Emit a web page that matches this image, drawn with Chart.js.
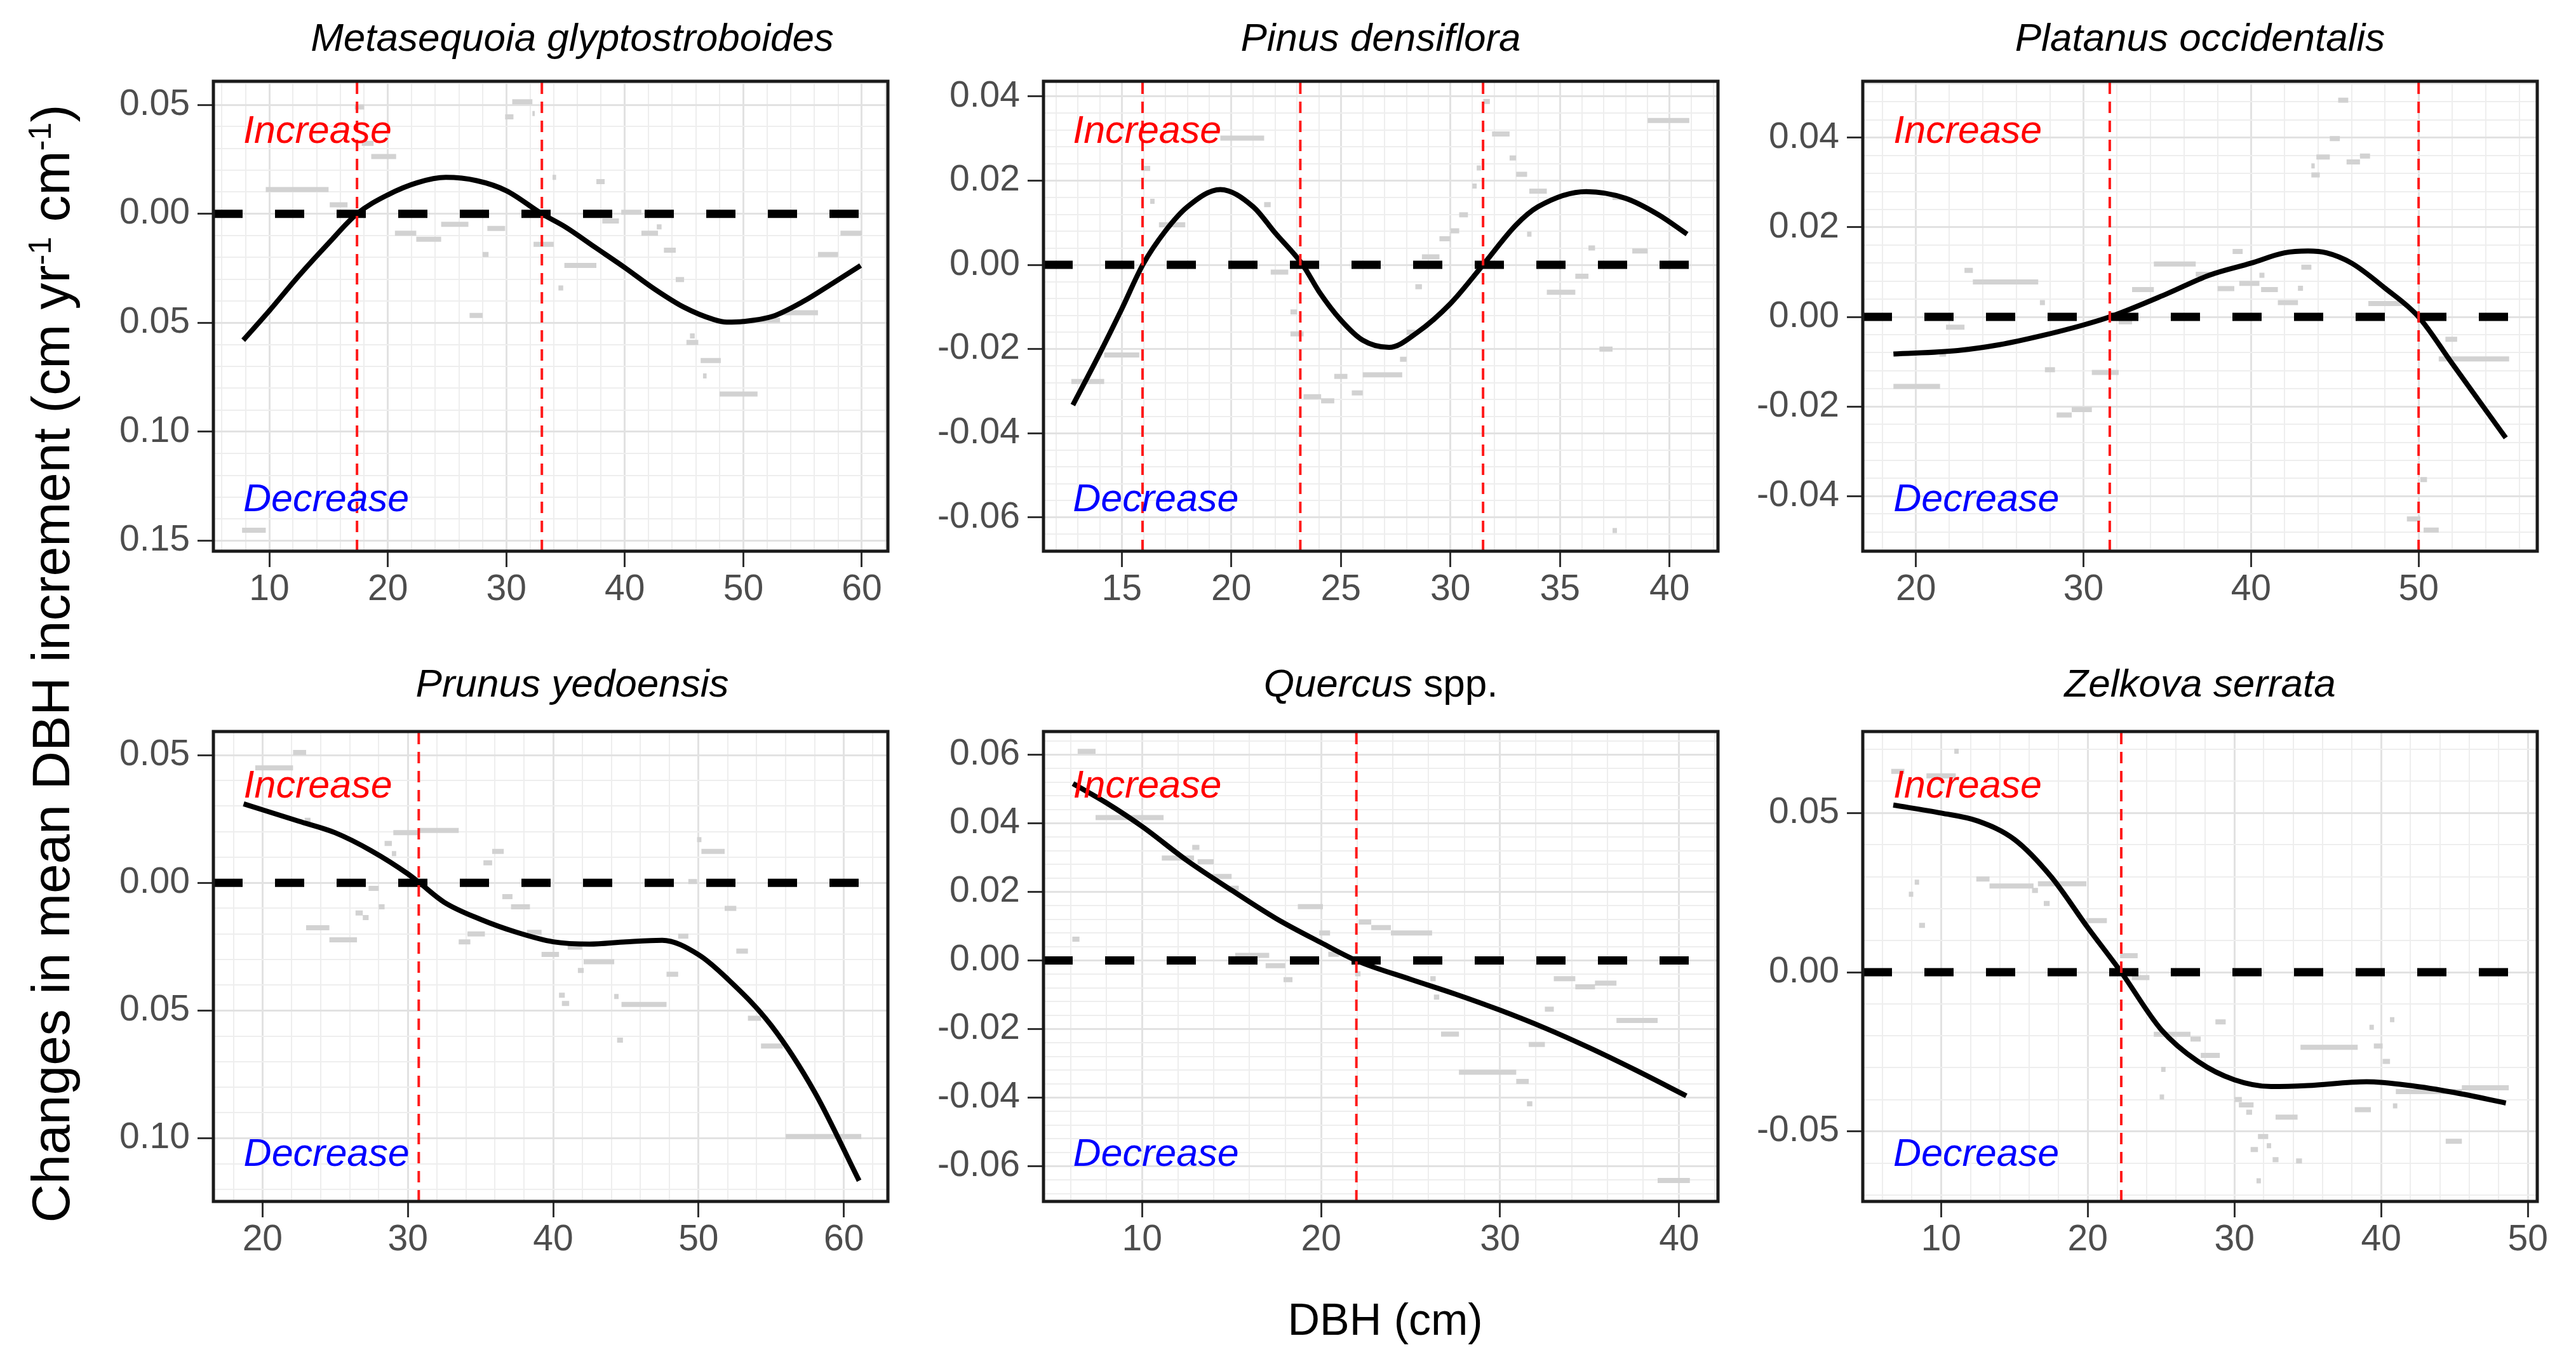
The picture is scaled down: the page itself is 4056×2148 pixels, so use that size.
<!DOCTYPE html>
<html>
<head>
<meta charset="utf-8">
<title>Changes in mean DBH increment by DBH</title>
<script src="https://cdn.jsdelivr.net/npm/chart.js"></script>
<style>
  body { margin: 0; background: #fff; }
  #page { position: relative; width: 4056px; height: 2148px; overflow: hidden;
          font-family: "Liberation Sans", Arial, sans-serif; color: #000; }
  #page canvas { position: absolute; }
  #ytitle { position: absolute; left: 80px; top: 1045px; white-space: nowrap;
            font-size: 84px; line-height: 84px;
            transform: translate(-50%, -50%) rotate(-90deg); }
  #ytitle sup { font-size: 0.6em; line-height: 0; }
  #xtitle { position: absolute; left: 2181px; top: 2043px; white-space: nowrap;
            font-size: 70px; line-height: 70px; transform: translateX(-50%); }
</style>
</head>
<body>
<div id="page">
  <div id="ytitle">Changes in mean DBH increment (cm yr<sup>-1</sup> cm<sup>-1</sup>)</div>
  <div id="xtitle">DBH (cm)</div>
</div>
<script>
// ---- data: smooth curve [DBH, change], gray bins [from, to, value], crossing points ----
const metaCurve = [[7.8,-0.058],[10,-0.0445],[12.5,-0.0284],[15,-0.0135],[17.4,0],[20,0.0087],[22.5,0.0143],[24.9,0.0167],[27.5,0.0152],[30,0.0106],[33,0],[35,-0.0061],[37.5,-0.0154],[40,-0.0247],[42.5,-0.0345],[45,-0.0429],[47.5,-0.0485],[48.6,-0.0497],[50,-0.0494],[52.5,-0.047],[55,-0.0404],[57.5,-0.032],[59.9,-0.0237]];
const metaBins = [[17.2,18.0,0.049],[17.8,18.8,0.0323],[18.6,20.7,0.0263],[9.7,15.0,0.0111],[15.1,16.6,0.0041],[29.9,30.6,0.0445],[30.5,32.2,0.0514],[32.2,32.4,0.046],[20.6,22.4,-0.0089],[22.4,24.5,-0.0117],[24.5,26.8,-0.0048],[28.4,29.9,-0.0067],[28.0,28.5,-0.0187],[26.9,28.0,-0.0466],[32.3,34.0,-0.014],[33.9,34.2,0.0167],[34.9,37.6,-0.0237],[34.4,34.8,-0.034],[37.6,38.3,0.0148],[38.1,39.5,-0.0033],[39.7,41.4,0.0007],[41.4,42.8,-0.0089],[42.7,43.1,-0.006],[43.3,44.3,-0.0167],[44.3,45.0,-0.0302],[45.2,46.2,-0.059],[45.5,45.9,-0.056],[46.4,48.1,-0.0673],[46.6,46.9,-0.0744],[48.0,51.2,-0.0827],[51.2,53.1,-0.0488],[53.1,56.3,-0.0454],[56.3,58.0,-0.0187],[58.2,60.0,-0.0089],[7.7,9.7,-0.1452]];
const metaCuts = [17.4, 33.0];
const metaXTicks = [10, 20, 30, 40, 50, 60];
const metaYTicks = [-0.15, -0.10, -0.05, 0, 0.05];
const metaYLabels = ['0.15', '0.10', '0.05', '0.00', '0.05'];

const pinusCurve = [[12.77,-0.0333],[14,-0.021],[15,-0.0105],[15.96,0],[17,0.0081],[18,0.0138],[19.5,0.0179],[21,0.0138],[22,0.0076],[23.26,0],[24,-0.0063],[25,-0.0131],[26,-0.0179],[27.2,-0.0196],[28.5,-0.016],[30,-0.0092],[31.49,0],[33,0.0095],[34,0.0138],[36.2,0.0174],[38,0.0158],[39.5,0.0119],[40.8,0.0073]];
const pinusBins = [[12.7,14.2,-0.0277],[14.2,15.8,-0.0214],[15.9,16.3,0.0229],[16.3,16.5,0.0151],[16.7,17.9,0.0095],[19.5,21.5,0.0301],[21.5,21.8,0.0143],[21.8,22.6,-0.0017],[22.7,23.0,-0.0112],[22.7,23.3,-0.0164],[23.3,24.1,-0.0313],[24.1,24.7,-0.0323],[24.7,25.3,-0.0265],[25.5,26.0,-0.0304],[26.0,27.8,-0.0261],[27.7,28.0,-0.0224],[28.0,28.4,-0.016],[28.4,28.7,-0.0052],[28.7,29.5,0.0019],[29.5,30.0,0.0062],[30.0,30.4,0.0081],[30.4,30.8,0.0119],[31.0,31.2,0.0187],[31.2,31.4,0.023],[31.5,31.8,0.0388],[31.9,32.7,0.0311],[32.7,33.0,0.0254],[33.0,33.5,0.0215],[33.6,34.4,0.0175],[33.5,33.7,0.0073],[34.4,35.7,-0.0065],[35.7,36.3,-0.0027],[36.8,37.4,-0.02],[37.4,37.6,-0.0631],[37.4,37.9,0.016],[38.3,39.0,0.0033],[39.0,40.9,0.0343],[36.3,36.6,0.004]];
const pinusCuts = [15.95, 23.15, 31.49];
const pinusXTicks = [15, 20, 25, 30, 35, 40];
const pinusYTicks = [-0.06, -0.04, -0.02, 0, 0.02, 0.04];
const pinusYLabels = ['-0.06', '-0.04', '-0.02', '0.00', '0.02', '0.04'];

const platCurve = [[18.66,-0.0083],[22.5,-0.0075],[25,-0.0062],[27.5,-0.0042],[30,-0.0018],[31.57,0],[35,0.0052],[37.5,0.0093],[40,0.012],[42,0.0143],[43.4,0.0147],[44.5,0.0143],[46,0.012],[48,0.0064],[50,0],[52,-0.0104],[55.2,-0.027]];
const platBins = [[18.66,21.44,-0.0155],[21.4,21.8,-0.0083],[21.8,22.9,-0.0023],[22.9,23.4,0.0104],[23.4,27.3,0.0078],[27.4,27.7,0.0032],[27.7,28.3,-0.0118],[28.4,29.3,-0.0219],[29.3,30.5,-0.0207],[30.5,32.1,-0.0124],[32.1,32.9,-0.0011],[32.9,34.2,0.0061],[34.2,36.7,0.0118],[36.7,37.8,0.0095],[38.0,39.0,0.0063],[38.9,39.5,0.0146],[39.3,40.5,0.0075],[40.5,40.8,0.0093],[40.6,41.6,0.0061],[41.6,42.8,0.0032],[42.8,43.1,0.0064],[43.0,43.6,0.0111],[43.6,44.1,0.0317],[43.6,43.8,0.0337],[43.9,44.7,0.0357],[44.7,45.3,0.0398],[45.2,45.8,0.0484],[45.7,46.5,0.0346],[46.5,47.1,0.0359],[47.0,49.1,0.003],[49.3,50.1,-0.0451],[50.1,50.5,-0.0363],[50.3,51.2,-0.0476],[51.6,52.3,-0.005],[51.2,55.4,-0.0094]];
const platCuts = [31.57, 50.0];
const platXTicks = [20, 30, 40, 50];
const platYTicks = [-0.04, -0.02, 0, 0.02, 0.04];
const platYLabels = ['-0.04', '-0.02', '0.00', '0.02', '0.04'];

const prunCurve = [[18.7,0.0309],[22.5,0.0241],[25,0.0196],[27.5,0.0125],[30,0.0035],[30.8,0],[32.5,-0.0076],[35,-0.0143],[37.5,-0.0194],[40,-0.0231],[42.5,-0.024],[45,-0.0231],[47.5,-0.0225],[50,-0.0281],[52,-0.0376],[55,-0.0558],[58,-0.082],[61.05,-0.1166]];
const prunBins = [[19.5,22.1,0.045],[22.1,23.0,0.051],[22.9,23.3,0.0245],[23.0,24.6,-0.0176],[24.6,26.5,-0.0223],[26.4,26.9,-0.0118],[26.9,27.3,-0.0136],[27.3,28.0,-0.0022],[28.0,28.4,-0.0094],[28.4,28.9,0.0154],[28.9,29.2,0.0114],[29.0,30.8,0.0196],[30.8,33.5,0.0205],[33.5,34.3,-0.0231],[34.1,35.3,-0.02],[35.2,35.8,0.0078],[35.8,36.6,0.0123],[36.5,37.2,-0.0054],[37.1,38.4,-0.0094],[38.2,39.2,-0.0194],[39.2,40.4,-0.028],[40.4,40.8,-0.044],[40.6,41.1,-0.0472],[41.0,42.0,-0.0252],[41.7,42.1,-0.0343],[42.1,44.2,-0.0309],[44.2,44.5,-0.0445],[44.4,44.8,-0.0616],[44.7,47.8,-0.0476],[47.8,48.6,-0.0358],[48.6,49.3,-0.0209],[49.3,49.9,0.0005],[49.9,50.2,0.0169],[50.2,51.8,0.0123],[51.8,52.6,-0.01],[52.6,53.4,-0.0267],[53.4,54.3,-0.053],[54.3,55.8,-0.0639],[56.0,61.2,-0.0993]];
const prunCuts = [30.75];
const prunXTicks = [20, 30, 40, 50, 60];
const prunYTicks = [-0.10, -0.05, 0, 0.05];
const prunYLabels = ['0.10', '0.05', '0.00', '0.05'];

const querCurve = [[6.14,0.0516],[8,0.046],[10,0.0391],[12.5,0.0292],[15,0.0205],[17.5,0.0122],[20,0.0052],[21.97,0],[25,-0.0055],[27.5,-0.0098],[30,-0.0145],[32.5,-0.0197],[35,-0.0255],[37.5,-0.0318],[40.4,-0.0395]];
const querBins = [[6.4,7.4,0.061],[6.1,6.5,0.0062],[7.4,11.2,0.0417],[11.1,12.9,0.0299],[12.8,13.2,0.033],[13.1,14.0,0.0288],[13.9,15.0,0.0245],[14.8,15.4,0.0211],[15.2,17.1,0.0015],[16.9,18.0,-0.0015],[17.9,18.4,-0.0056],[18.7,20.1,0.0157],[19.9,20.5,0.008],[20.4,21.0,0.0018],[22.1,22.8,0.0112],[22.8,23.9,0.0096],[23.9,26.2,0.008],[21.9,22.2,-0.0039],[26.1,26.4,-0.0053],[26.3,26.6,-0.0107],[26.7,27.7,-0.0215],[27.7,30.9,-0.0326],[30.9,31.6,-0.0353],[31.5,31.8,-0.0418],[31.6,32.5,-0.0245],[32.5,33.0,-0.0142],[33.0,34.2,-0.0053],[34.2,35.3,-0.0077],[35.3,36.5,-0.0066],[36.5,38.8,-0.0175],[38.8,40.6,-0.0642]];
const querCuts = [21.97];
const querXTicks = [10, 20, 30, 40];
const querYTicks = [-0.06, -0.04, -0.02, 0, 0.02, 0.04, 0.06];
const querYLabels = ['-0.06', '-0.04', '-0.02', '0.00', '0.02', '0.04', '0.06'];

const zelkCurve = [[6.74,0.0525],[10,0.05],[12.5,0.0475],[15,0.0417],[17.5,0.03],[20,0.014],[22.28,0],[25,-0.018],[27.5,-0.028],[30,-0.0338],[32.5,-0.0359],[35,-0.0356],[39,-0.0344],[42,-0.0356],[45,-0.0378],[48.5,-0.0411]];
const zelkBins = [[6.6,7.5,0.0631],[9.0,11.0,0.0617],[10.9,11.2,0.0694],[7.8,8.1,0.0245],[8.2,8.5,0.0283],[8.5,8.9,0.0147],[12.4,13.3,0.0293],[13.3,16.3,0.0271],[16.2,16.6,0.0257],[16.6,19.9,0.0278],[17.0,17.4,0.0216],[19.9,21.3,0.0162],[22.2,23.4,0.0052],[23.0,24.2,-0.0017],[24.5,27.0,-0.0195],[27.0,27.7,-0.021],[27.7,29.0,-0.0261],[28.7,29.4,-0.0156],[25.0,25.3,-0.0305],[24.9,25.2,-0.0392],[30.0,30.5,-0.04],[30.3,31.3,-0.0417],[30.8,31.2,-0.044],[31.1,31.6,-0.0557],[31.6,32.3,-0.0516],[32.2,32.5,-0.0545],[32.6,33.0,-0.0589],[31.5,31.8,-0.0655],[32.8,34.3,-0.0455],[34.2,34.6,-0.0593],[34.5,38.4,-0.0236],[38.2,39.3,-0.0432],[39.2,39.5,-0.0173],[39.5,40.1,-0.0232],[40.1,40.6,-0.028],[40.6,40.9,-0.0149],[40.8,41.1,-0.042],[41.0,45.5,-0.0375],[44.4,45.5,-0.0531],[45.5,48.7,-0.0363]];
const zelkCuts = [22.28];
const zelkXTicks = [10, 20, 30, 40, 50];
const zelkYTicks = [-0.05, 0, 0.05];
const zelkYLabels = ['-0.05', '0.00', '0.05'];

// ---- panel setup ----
const FONT = '"Liberation Sans", Arial, sans-serif';
const BOX_W = 1062, BOX_H = 740;
const colLeft = [336, 1643, 2933];
const rowTop = [128, 1152];
const Y_AXIS_W = 250, PAD_T = 110, PAD_R = 90, X_AXIS_H = 110, PAD_B = 10;

const panels = [
  { title: [['Metasequoia glyptostroboides', true]], col: 0, row: 0, curve: metaCurve, bins: metaBins, cuts: metaCuts,
    xTicks: metaXTicks, yTicks: metaYTicks, yLabels: metaYLabels, x: [5.28, 62.2, 10], y: [-0.1548, 0.0608, 0.05] },
  { title: [['Pinus densiflora', true]], col: 1, row: 0, curve: pinusCurve, bins: pinusBins, cuts: pinusCuts,
    xTicks: pinusXTicks, yTicks: pinusYTicks, yLabels: pinusYLabels, x: [11.43, 42.21, 5], y: [-0.068, 0.0436, 0.02] },
  { title: [['Platanus occidentalis', true]], col: 2, row: 0, curve: platCurve, bins: platBins, cuts: platCuts,
    xTicks: platXTicks, yTicks: platYTicks, yLabels: platYLabels, x: [16.83, 57.08, 10], y: [-0.0523, 0.0526, 0.02] },
  { title: [['Prunus yedoensis', true]], col: 0, row: 1, curve: prunCurve, bins: prunBins, cuts: prunCuts,
    xTicks: prunXTicks, yTicks: prunYTicks, yLabels: prunYLabels, x: [16.62, 63.03, 10], y: [-0.1247, 0.0592, 0.05] },
  { title: [['Quercus', true], [' spp.', false]], col: 1, row: 1, curve: querCurve, bins: querBins, cuts: querCuts,
    xTicks: querXTicks, yTicks: querYTicks, yLabels: querYLabels, x: [4.49, 42.17, 10], y: [-0.0703, 0.0668, 0.02] },
  { title: [['Zelkova serrata', true]], col: 2, row: 1, curve: zelkCurve, bins: zelkBins, cuts: zelkCuts,
    xTicks: zelkXTicks, yTicks: zelkYTicks, yLabels: zelkYLabels, x: [4.66, 50.64, 10], y: [-0.072, 0.0756, 0.05] }
];

// text offsets inside each row (px): title baseline above box, Increase baseline below top, Decrease baseline above bottom
const rowText = [{ title: 48, inc: 97, dec: 63 }, { title: 55, inc: 104, dec: 56 }];
const colTitleShift = [34, 0, 0];

const near = (a, b) => Math.abs(a - b) < 1e-9;
const isMajor = (v, step) => Math.abs(v / step - Math.round(v / step)) < 1e-6;

const panelDecor = {
  id: 'panelDecor',
  afterDatasetsDraw(chart, args, o) {
    const { ctx, chartArea: a, scales } = chart;
    ctx.save();
    // frame
    ctx.strokeStyle = '#1a1a1a';
    ctx.lineWidth = 5;
    ctx.strokeRect(a.left, a.top, a.right - a.left, a.bottom - a.top);
    // Increase / Decrease labels, anchored at the smallest DBH
    ctx.font = 'italic 61px ' + FONT;
    ctx.textAlign = 'left';
    ctx.textBaseline = 'alphabetic';
    const tx = scales.x.getPixelForValue(o.labelX);
    ctx.fillStyle = '#ff0000';
    ctx.fillText('Increase', tx, a.top + o.inc);
    ctx.fillStyle = '#0000ff';
    ctx.fillText('Decrease', tx, a.bottom - o.dec);
    // panel title (mixed italic / upright)
    ctx.fillStyle = '#000';
    const fonts = o.title.map(t => (t[1] ? 'italic ' : '') + '62px ' + FONT);
    const widths = o.title.map((t, i) => { ctx.font = fonts[i]; return ctx.measureText(t[0]).width; });
    let x = (a.left + a.right) / 2 + o.shift - widths.reduce((s, w) => s + w, 0) / 2;
    o.title.forEach((t, i) => {
      ctx.font = fonts[i];
      ctx.fillText(t[0], x, a.top - o.titleGap);
      x += widths[i];
    });
    ctx.restore();
  }
};

panels.forEach(p => {
  const canvas = document.createElement('canvas');
  const w = Y_AXIS_W + BOX_W + PAD_R;
  const h = PAD_T + BOX_H + X_AXIS_H + PAD_B;
  canvas.width = w;
  canvas.height = h;
  canvas.style.left = (colLeft[p.col] - Y_AXIS_W) + 'px';
  canvas.style.top = (rowTop[p.row] - PAD_T) + 'px';
  document.getElementById('page').appendChild(canvas);

  const [xMin, xMax, xMajor] = p.x;
  const [yMin, yMax, yMajor] = p.y;

  const binPts = [];
  p.bins.forEach(b => binPts.push({ x: b[0], y: b[2] }, { x: b[1], y: b[2] }, { x: b[1], y: null }));

  const datasets = [
    { data: binPts, borderColor: '#d2d2d2', borderWidth: 8, borderCapStyle: 'butt', spanGaps: false, clip: 0, order: 5 },
    { data: [{ x: xMin, y: 0 }, { x: xMax, y: 0 }], borderColor: '#000', borderWidth: 13, borderDash: [46, 51], borderCapStyle: 'butt', clip: 0, order: 4 },
    { data: p.curve.map(c => ({ x: c[0], y: c[1] })), borderColor: '#000', borderWidth: 8, cubicInterpolationMode: 'monotone', clip: 0, order: 3 }
  ];
  p.cuts.forEach(c => datasets.push({
    data: [{ x: c, y: yMin }, { x: c, y: yMax }], borderColor: '#ff1a1a', borderWidth: 4, borderDash: [18, 12], clip: 0, order: 2
  }));

  const gridFor = major => ({
    color: ctx => isMajor(ctx.tick.value, major) ? '#e2e2e2' : '#eeeeee',
    lineWidth: ctx => isMajor(ctx.tick.value, major) ? 3 : 2,
    tickColor: ctx => isMajor(ctx.tick.value, major) ? '#333333' : 'rgba(0,0,0,0)',
    tickWidth: 3,
    tickLength: 25
  });

  new Chart(canvas, {
    type: 'scatter',
    data: { datasets },
    options: {
      responsive: false,
      animation: false,
      devicePixelRatio: 1,
      layout: { padding: { left: 0, top: PAD_T, right: PAD_R, bottom: PAD_B } },
      elements: { point: { radius: 0, hoverRadius: 0 }, line: { fill: false } },
      datasets: { scatter: { showLine: true } },
      plugins: {
        legend: { display: false },
        tooltip: { enabled: false },
        panelDecor: {
          title: p.title, labelX: p.curve[0][0], shift: colTitleShift[p.col],
          titleGap: rowText[p.row].title, inc: rowText[p.row].inc, dec: rowText[p.row].dec
        }
      },
      scales: {
        x: {
          type: 'linear', min: xMin, max: xMax,
          afterFit: s => { s.height = X_AXIS_H; },
          border: { display: false },
          grid: gridFor(xMajor),
          ticks: {
            stepSize: xMajor / 5, includeBounds: false, autoSkip: false, maxRotation: 0, padding: 2,
            color: '#4d4d4d', font: { family: FONT, size: 57 },
            callback: v => { const t = p.xTicks.find(k => near(k, v)); return t === undefined ? '' : String(t); }
          }
        },
        y: {
          type: 'linear', min: yMin, max: yMax,
          afterFit: s => { s.width = Y_AXIS_W; },
          border: { display: false },
          grid: gridFor(yMajor),
          ticks: {
            stepSize: yMajor / 5, includeBounds: false, autoSkip: false, padding: 12,
            color: '#4d4d4d', font: { family: FONT, size: 57 },
            callback: v => { const i = p.yTicks.findIndex(k => near(k, v)); return i < 0 ? '' : p.yLabels[i]; }
          }
        }
      }
    },
    plugins: [panelDecor]
  });
});
</script>
</body>
</html>
